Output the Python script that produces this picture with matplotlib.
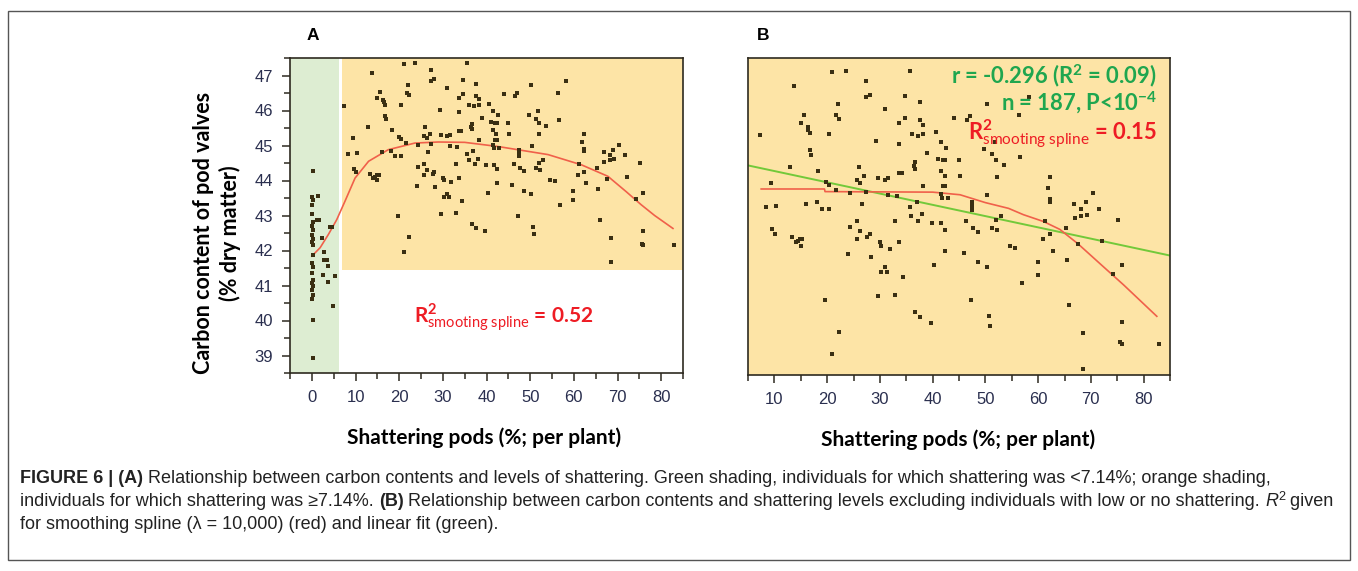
import numpy as np
import matplotlib
matplotlib.use("Agg")
import matplotlib.pyplot as plt
from matplotlib.font_manager import FontProperties
from matplotlib.patches import Rectangle

plt.rcParams['mathtext.fontset'] = 'custom'
plt.rcParams['mathtext.rm'] = 'Lato'
plt.rcParams['mathtext.bf'] = 'Lato:bold'
plt.rcParams['mathtext.it'] = 'Lato:italic'

# individuals with shattering >= 7.14 % (shown in A and B)
shatter_hi = [21.0, 23.66, 35.62, 13.73, 27.33, 27.33, 28.09, 34.67, 22.02, 37.64,
              15.69, 21.70, 31.0, 22.33, 34.67, 33.66, 37.64, 38.27, 43.97, 15.0,
              16.39, 16.45, 16.70, 20.31, 7.28, 36.0, 37.2, 38.27, 40.61, 29.29,
              33.66, 41.56, 42.57, 16.70, 17.02, 38.97, 40.99, 41.94, 42.38, 44.98,
              36.63, 36.44, 36.63, 12.97, 26.0, 18.35, 41.56, 33.66, 34.16, 27.01,
              42.26, 45.23, 9.37, 19.87, 25.69, 26.32, 29.67, 31.0, 31.57, 38.27,
              20.31, 41.88, 42.38, 21.64, 24.36, 27.33, 31.63, 33.34, 41.56, 41.75,
              42.95, 26.64, 37.01, 8.36, 10.38, 16.01, 18.03, 18.98, 20.31, 35.62,
              35.93, 37.96,
              9.62, 10.06, 13.35, 14.05, 14.49, 14.93, 15.31, 15.0,
              24.36, 25.62, 26.32, 25.62, 27.65, 28.09, 28.28, 23.98,
              29.99, 30.30, 31.95, 32.96, 33.66,
              37.26, 39.92, 41.63, 42.32, 42.32, 40.30,
              30.94, 30.30, 31.32, 34.29,
              19.68, 29.67, 32.96,
              36.63, 37.64, 39.60,
              22.33, 21.0,
              46.31, 47.57, 48.59, 51.31, 52.26, 52.0, 52.95,
              45.93, 48.59, 50.29, 54.60, 55.61,
              61.24, 60.92, 62.25, 62.88, 65.22, 65.54, 66.93, 68.20, 69.21,
              67.63, 72.18, 75.22, 74.20, 75.85, 59.91, 59.91, 56.94,
              47.26, 50.61, 50.93, 65.92, 68.51, 68.51, 75.85, 75.54, 75.92, 82.88,
              50.29, 56.30, 58.32, 47.0, 46.50,
              51.81, 49.72, 51.24, 52.0, 53.52, 56.56,
              52.13, 62.25, 61.87, 62.3, 62.3, 50.35,
              66.8, 69.08, 70.35, 71.61, 68.2,
              47.44, 47.44, 47.44]
carbon_hi = [47.33, 47.36, 47.36, 47.06, 47.16, 46.85, 46.89, 46.88, 46.72, 46.76,
             46.52, 46.51, 46.63, 46.43, 46.46, 46.35, 46.42, 46.32, 46.46, 46.35,
             46.29, 46.23, 46.16, 46.15, 46.13, 46.15, 46.12, 46.15, 46.18, 46.02,
             45.95, 45.99, 45.88, 45.85, 45.75, 45.78, 45.68, 45.65, 45.65, 45.65,
             45.61, 45.54, 45.48, 45.52, 45.52, 45.45, 45.45, 45.41, 45.41, 45.34,
             45.34, 45.34, 45.22, 45.24, 45.28, 45.22, 45.31, 45.28, 45.31, 45.15,
             45.18, 45.15, 45.15, 45.08, 45.02, 45.05, 44.99, 44.97, 45.01, 44.92,
             44.92, 44.82, 44.85, 44.75, 44.78, 44.82, 44.85, 44.71, 44.71, 44.75,
             44.58, 44.62,
             44.33, 44.25, 44.18, 44.08, 44.11, 44.15, 44.15, 44.01,
             44.38, 44.48, 44.29, 44.15, 44.18, 44.25, 43.81, 43.85,
             44.08, 44.01, 43.95, 44.48, 44.08,
             44.48, 44.45, 44.45, 44.32, 43.92, 43.65,
             43.61, 43.52, 43.52, 43.42,
             42.99, 43.05, 43.08,
             42.75, 42.65, 42.55,
             42.38, 41.95,
             44.48, 44.35, 44.28, 44.35, 44.31, 44.51, 44.58,
             43.88, 43.71, 43.61, 44.02, 43.98,
             44.48, 44.15, 44.25, 43.92, 44.35, 43.75, 44.54, 44.58, 44.61,
             44.05, 44.11, 44.51, 43.48, 43.65, 43.71, 43.45, 43.31,
             42.99, 42.68, 42.48, 42.88, 42.35, 41.67, 42.57, 42.18, 42.15, 42.15,
             46.72, 46.51, 46.85, 46.50, 46.41,
             45.99, 45.86, 45.76, 45.65, 45.55, 45.72,
             45.32, 45.32, 45.11, 44.90, 44.85, 44.98,
             44.82, 44.86, 45.02, 44.72, 44.72,
             44.86, 44.78, 44.70]

# individuals with shattering < 7.14 % (green zone of A)
shatter_lo = [0.2, 0.1, 0.2, 0.1, 0.2, 0.1, 0.3, 0.1, 0.2, 0.1, 0.2, 0.2, 0.1, 0.2,
              0.1, 0.2, 0.1, 0.2, 0.1, 0.2, 0.1, 0.2, 0.2, 0.1,
              1.5, 1.2, 1.6, 2.4, 2.9, 2.7, 3.4, 3.8, 2.6, 3.8, 5.3, 4.9, 4.2, 4.7]
carbon_lo = [44.26, 43.52, 43.44, 43.29, 42.81, 42.69, 42.6, 42.43, 42.33, 42.24,
             42.15, 41.87, 41.65, 41.54, 41.36, 41.17, 41.08, 40.98, 40.87, 40.73,
             40.62, 40.02, 38.94, 43.05,
             43.57, 42.86, 42.88, 42.36, 41.97, 41.73, 41.73, 41.57, 41.3, 41.1,
             41.27, 40.42, 42.68, 42.68]

splineA_x = [0, 1.9, 3.8, 5.7, 7.6, 9.9, 13.0, 17.5, 23.6, 29.0, 35.0, 42.7, 54.1,
             61.7, 67.8, 72.0, 75.4, 78.5, 82.7]
splineA_y = [41.84, 42.08, 42.46, 42.88, 43.41, 44.07, 44.55, 44.88, 45.07, 45.10,
             45.09, 44.97, 44.74, 44.45, 44.12, 43.68, 43.31, 43.0, 42.63]

splineB_x = [7.5, 19.5, 19.6, 40.0, 45.2, 50.0, 54.4, 57.2, 61.0, 64.1, 67.6, 72.0,
             76.2, 82.5]
splineB_y = [45.10, 45.10, 45.05, 45.04, 44.99, 44.84, 44.73, 44.61, 44.48, 44.33,
             44.05, 43.65, 43.27, 42.67]

lin_x = [5.0, 85.0]
lin_y = [45.55, 43.83]

W, H = 1358, 571
orange = '#fde4a6'
green_bg = '#ddedd2'
pt_col = '#3a2f12'
red_line = '#f0604a'
green_line = '#72c93a'
txt_green = '#1fa64f'
txt_red = '#ee1c24'
frame = '#2e2a20'
tick_col = '#2a2f4f'

fig = plt.figure(figsize=(W / 100, H / 100), dpi=100)
fig.patches.append(Rectangle((8 / W, 11 / H), 1342 / W, 549 / H, fill=False,
                             edgecolor='#555555', lw=1, transform=fig.transFigure))

axA = fig.add_axes([290 / W, (H - 373) / H, 393 / W, 315 / H])
axB = fig.add_axes([748 / W, (H - 375) / H, 422 / W, 317 / H])

# panel A
axA.axvspan(-5, 6.2, color=green_bg, zorder=0, lw=0)
axA.add_patch(Rectangle((6.9, 41.43), 85 - 6.9, 47.5 - 41.43, color=orange, lw=0, zorder=0))
axA.plot(splineA_x, splineA_y, color=red_line, lw=1.2, zorder=2)
axA.plot(shatter_lo, carbon_lo, 's', ms=2.5, mew=0, color=pt_col, zorder=3)
axA.plot(shatter_hi, carbon_hi, 's', ms=2.5, mew=0, color=pt_col, zorder=3)
axA.set_xlim(-5, 85)
axA.set_ylim(38.5, 47.5)
axA.set_xticks(range(0, 81, 10))
axA.set_xticks(np.arange(-5, 86, 5), minor=True)
axA.set_yticks(range(39, 48))
axA.set_yticks(np.arange(38.5, 47.6, 0.5), minor=True)
axA.text(23.5, 39.94, r'$\mathbf{R}^{\mathbf{2}}_{\mathrm{smooting\ spline}}$ = 0.52',
         color=txt_red, fontsize=15, fontweight='bold', family='Lato', va='baseline')

# panel B
axB.set_facecolor(orange)
axB.plot(lin_x, lin_y, color=green_line, lw=1.4, zorder=2)
axB.plot(splineB_x, splineB_y, color=red_line, lw=1.2, zorder=2)
axB.plot(shatter_hi, carbon_hi, 's', ms=2.5, mew=0, color=pt_col, zorder=3)
axB.set_xlim(5, 85)
axB.set_ylim(41.55, 47.6)
axB.set_xticks(range(10, 81, 10))
axB.set_xticks(np.arange(5, 86, 5), minor=True)
axB.set_yticks([])
axB.text(0.969, 0.920, r'r = -0.296 (R$^{\mathbf{2}}$ = 0.09)', transform=axB.transAxes,
         ha='right', va='baseline', color=txt_green, fontsize=15.8, fontweight='bold', family='Lato')
axB.text(0.969, 0.834, r'n = 187, P<10$^{\mathbf{-4}}$', transform=axB.transAxes,
         ha='right', va='baseline', color=txt_green, fontsize=15.8, fontweight='bold', family='Lato')
axB.text(0.969, 0.741, r'$\mathbf{R}^{\mathbf{2}}_{\mathrm{smooting\ spline}}$ = 0.15',
         transform=axB.transAxes, ha='right', va='baseline', color=txt_red, fontsize=15.8,
         fontweight='bold', family='Lato')

for ax in (axA, axB):
    for s in ax.spines.values():
        s.set_color(frame)
        s.set_linewidth(1.2)
    ax.tick_params(which='major', direction='out', length=6, width=1.1, color=frame,
                   labelsize=12, labelcolor=tick_col, pad=6)
    ax.tick_params(which='minor', direction='out', length=4, width=1.1, color=frame)
    for lab in ax.get_xticklabels() + ax.get_yticklabels():
        lab.set_family('Liberation Sans')

fig.text(313 / W, 1 - 36 / H, 'A', fontsize=12.5, fontweight='bold', family='Liberation Sans',
         ha='center', va='center')
fig.text(763 / W, 1 - 36 / H, 'B', fontsize=12.5, fontweight='bold', family='Liberation Sans',
         ha='center', va='center')

fig.text(484 / W, 1 - 438 / H, 'Shattering pods (%; per plant)', fontsize=15,
         fontweight='bold', family='Lato', ha='center', va='center')
fig.text(958 / W, 1 - 440 / H, 'Shattering pods (%; per plant)', fontsize=15,
         fontweight='bold', family='Lato', ha='center', va='center')
fig.text(217 / W, 1 - 233 / H, 'Carbon content of pod valves\n(% dry matter)', fontsize=15.5,
         fontweight='bold', family='Lato', rotation=90, ha='center', va='center',
         multialignment='center', linespacing=1.25)

# caption, drawn run by run so bold / italic parts sit inline
cap_fam = ['Liberation Sans', 'DejaVu Sans']
cap_size = 13.0
renderer = fig.canvas.get_renderer()


def run_width(s, prop):
    w1 = renderer.get_text_width_height_descent('x' + s + 'x', prop, ismath=False)[0]
    w0 = renderer.get_text_width_height_descent('xx', prop, ismath=False)[0]
    return w1 - w0


def put_runs(x, y, runs):
    for s, style in runs:
        size = cap_size
        dy = 0
        weight, fstyle = 'normal', 'normal'
        if style == 'bold':
            weight = 'bold'
        elif style == 'italic':
            fstyle = 'italic'
        elif style == 'sup':
            size = cap_size * 0.7
            dy = 6
        prop = FontProperties(family=cap_fam, size=size, weight=weight, style=fstyle)
        fig.text(x / W, 1 - (y - dy) / H, s, fontproperties=prop, color='#222222',
                 va='baseline', ha='left')
        x += run_width(s, prop)


put_runs(20, 483, [
    ('FIGURE 6 | (A)', 'bold'),
    (' Relationship between carbon contents and levels of shattering. Green shading, '
     'individuals for which shattering was <7.14%; orange shading,', 'normal')])
put_runs(20, 506, [
    ('individuals for which shattering was \u22657.14%. ', 'normal'),
    ('(B)', 'bold'),
    (' Relationship between carbon contents and shattering levels excluding individuals '
     'with low or no shattering. ', 'normal'),
    ('R', 'italic'), ('2', 'sup'), (' given', 'normal')])
put_runs(20, 529, [
    ('for smoothing spline (\u03bb = 10,000) (red) and linear fit (green).', 'normal')])

fig.savefig('out.png', dpi=100)
